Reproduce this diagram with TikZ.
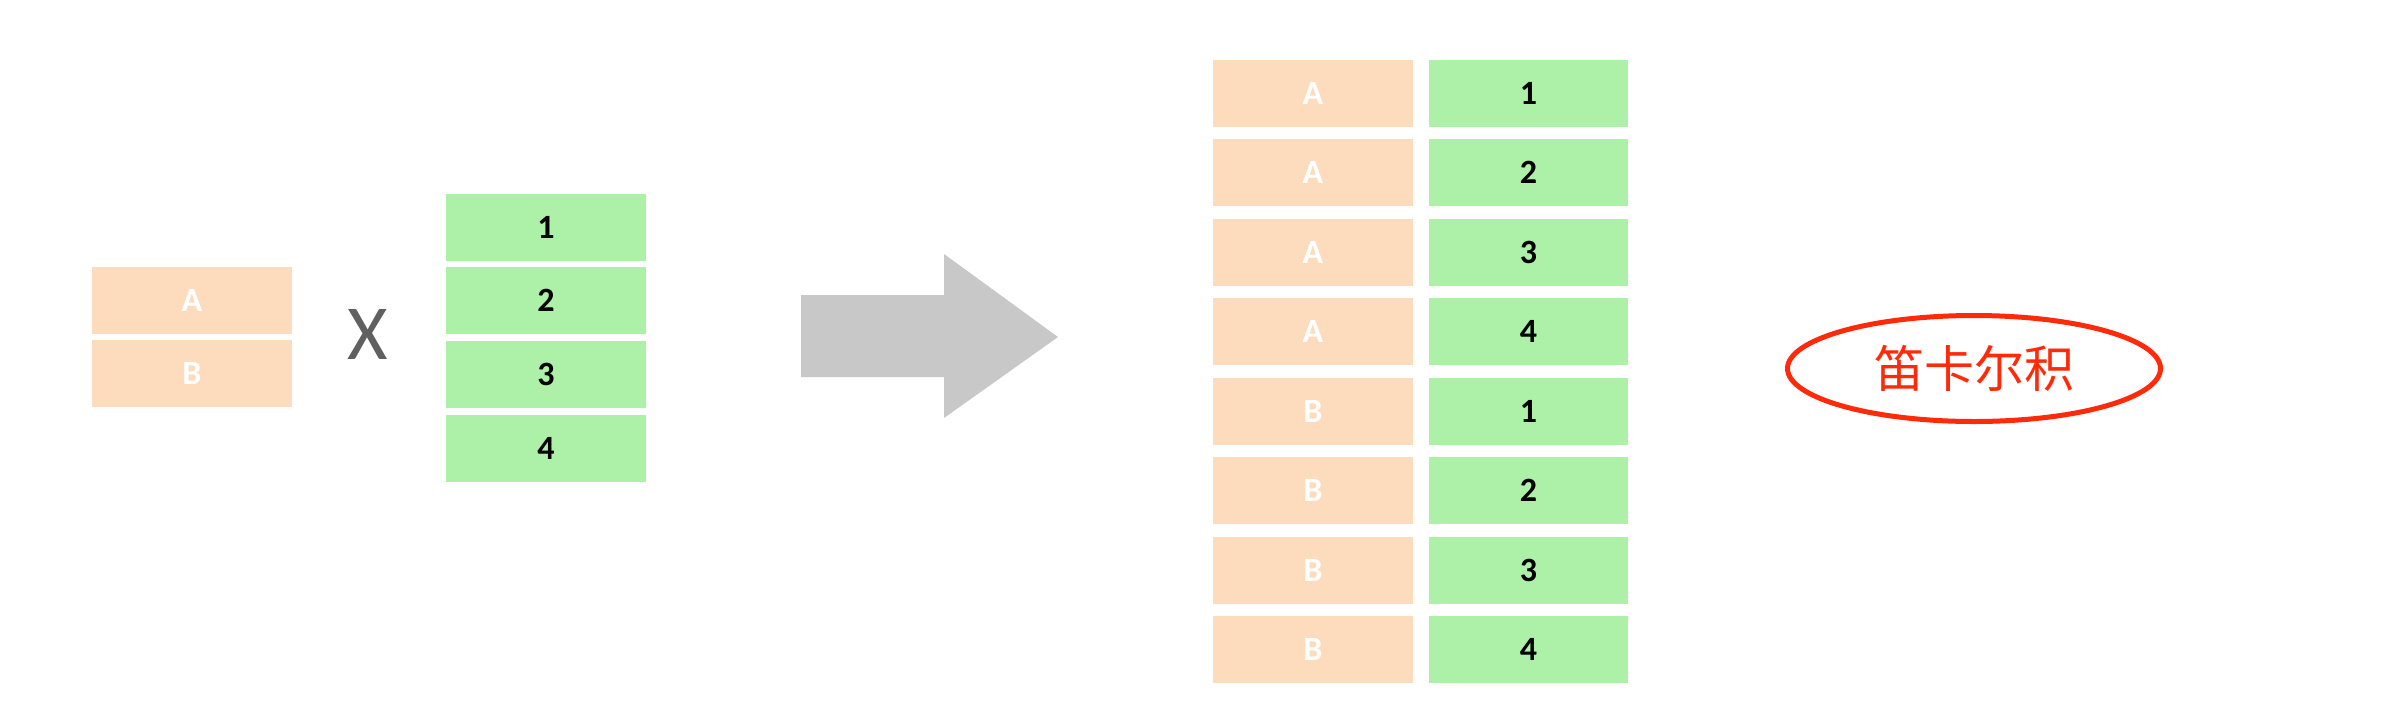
\documentclass[tikz,border=0pt]{standalone}
\usepackage{fontspec}
\setmainfont{Carlito}
\newfontfamily\cjk{Noto Sans CJK SC}
\usepackage{tikz}
\usetikzlibrary{positioning,shapes.geometric}
\definecolor{peach}{HTML}{FDDBBD}
\definecolor{mint}{HTML}{ADF0A8}
\definecolor{arrowgrey}{HTML}{C8C8C8}
\definecolor{timesgrey}{HTML}{606060}
\definecolor{hilite}{HTML}{FF2A0A}
\tikzset{
  letterbox/.style={fill=peach,text=white,inner sep=0pt,minimum height=67pt,
    minimum width=200pt,font=\fontsize{34}{34}\selectfont\bfseries},
  numberbox/.style={fill=mint,text=black,inner sep=0pt,minimum height=67pt,
    minimum width=200pt,font=\fontsize{34}{34}\selectfont\bfseries},
}

\begin{document}
\begin{tikzpicture}[x=1pt,y=-1pt]
\useasboundingbox (0,0) rectangle (2408,702);
% the two input columns
\node[letterbox] (a) at (192,300.5) {A};
\node[letterbox] (b) at (192,373.5) {B};
\node[font=\fontsize{78}{78}\selectfont,text=timesgrey] (times) at (368,334) {X};
\node[numberbox] (one) at (546,227.5) {1};
\node[numberbox] (two) at (546,300.5) {2};
\node[numberbox] (three) at (546,374.5) {3};
\node[numberbox] (four) at (546,448) {4};
% big arrow
\fill[arrowgrey] (801,295) -- (944,295) -- (944,254) -- (1058,337)
  -- (944,418) -- (944,377) -- (801,377) -- cycle;
% result table
\node[letterbox] (ra1) at (1313,93) {A};
\node[letterbox] (ra2) at (1313,172.5) {A};
\node[letterbox] (ra3) at (1313,252) {A};
\node[letterbox] (ra4) at (1313,331.5) {A};
\node[letterbox] (rb1) at (1313,411) {B};
\node[letterbox] (rb2) at (1313,490.5) {B};
\node[letterbox] (rb3) at (1313,570) {B};
\node[letterbox] (rb4) at (1313,649.5) {B};
\node[numberbox,minimum width=199pt] (na1) at (1528.5,93) {1};
\node[numberbox,minimum width=199pt] (na2) at (1528.5,172.5) {2};
\node[numberbox,minimum width=199pt] (na3) at (1528.5,252) {3};
\node[numberbox,minimum width=199pt] (na4) at (1528.5,331.5) {4};
\node[numberbox,minimum width=199pt] (nb1) at (1528.5,411) {1};
\node[numberbox,minimum width=199pt] (nb2) at (1528.5,490.5) {2};
\node[numberbox,minimum width=199pt] (nb3) at (1528.5,570) {3};
\node[numberbox,minimum width=199pt] (nb4) at (1528.5,649.5) {4};
% label
\node[ellipse,draw=hilite,line width=5pt,text=hilite,inner sep=0pt,
  minimum width=373pt,minimum height=106pt,font=\cjk\fontsize{50}{50}\selectfont]
  (product) at (1974,368.5) {笛卡尔积};
\end{tikzpicture}
\end{document}
